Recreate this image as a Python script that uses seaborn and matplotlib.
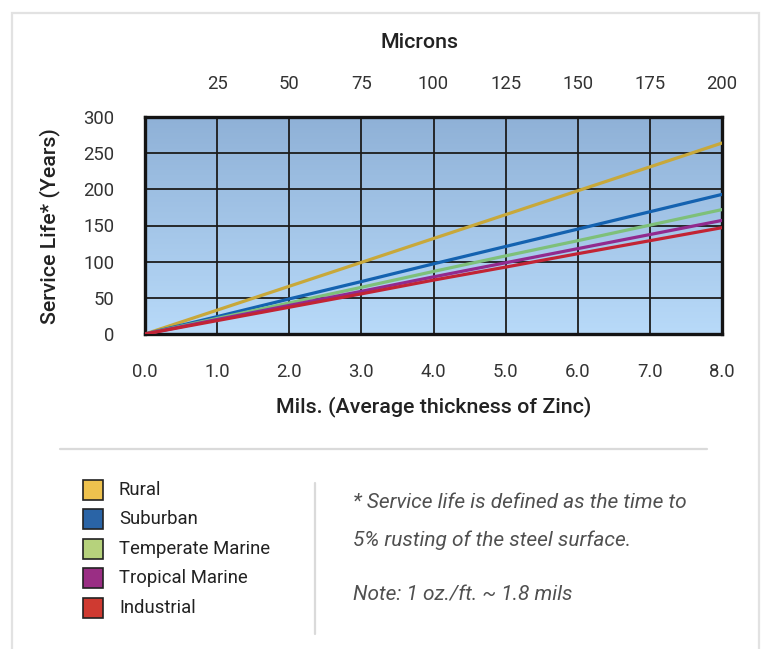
import numpy as np
import pandas as pd
import seaborn as sns
import matplotlib.pyplot as plt
from matplotlib.patches import Rectangle
from matplotlib.lines import Line2D
from matplotlib.colors import LinearSegmentedColormap

# ---------------- data ----------------
mils = [0, 1, 2, 3, 4, 5, 6, 7, 8]
rural = [0, 33, 66, 99, 132, 165, 198, 231, 264]
suburban = [0, 24, 48.5, 72.5, 97, 121, 145, 169, 193]
temperate_marine = [0, 21.5, 43, 64.5, 86.5, 108, 129, 150.5, 172]
tropical_marine = [0, 20, 39.5, 59, 79, 98.5, 118, 137.5, 157]
industrial = [0, 18.5, 37, 55.5, 74.5, 92.5, 111, 129, 147]

series_names = ["Rural", "Suburban", "Temperate Marine", "Tropical Marine", "Industrial"]
series_values = [rural, suburban, temperate_marine, tropical_marine, industrial]
line_colors = ["#c8a83a", "#1462b0", "#7ec07a", "#922a8e", "#c22434"]
legend_colors = ["#eec24e", "#2a64a6", "#b6d27c", "#9a2e84", "#cf3a31"]

x_ticks = [0, 1, 2, 3, 4, 5, 6, 7, 8]
x_tick_labels = ["0.0", "1.0", "2.0", "3.0", "4.0", "5.0", "6.0", "7.0", "8.0"]
micron_ticks = [1, 2, 3, 4, 5, 6, 7, 8]
micron_labels = ["25", "50", "75", "100", "125", "150", "175", "200"]
y_ticks = [0, 50, 100, 150, 200, 250, 300]

notes = ["* Service life is defined as the time to",
         "5% rusting of the steel surface.",
         "Note: 1 oz./ft. ~ 1.8 mils"]

df = pd.DataFrame({
    "Mils": np.tile(mils, len(series_names)),
    "Years": np.concatenate(series_values),
    "Environment": np.repeat(series_names, len(mils)),
})

# ---------------- figure ----------------
sns.set_theme(style="white")
plt.rcParams["font.family"] = ["Roboto", "DejaVu Sans"]

W, H = 762, 649
fig = plt.figure(figsize=(W / 100, H / 100), dpi=100)
fig.patch.set_facecolor("white")

def fx(px):
    return px / W

def fy(py):
    return 1 - py / H

# card border
fig.patches.append(Rectangle((fx(12), fy(660)), fx(759) - fx(12), fy(13) - fy(660),
                             transform=fig.transFigure, facecolor="none",
                             edgecolor="#e2e2e2", linewidth=1.6, zorder=0))

left, right, top, bottom = 145, 722, 117, 334
ax = fig.add_axes([fx(left), fy(bottom), fx(right) - fx(left), fy(top) - fy(bottom)])

# gradient background
cmap = LinearSegmentedColormap.from_list("bg", ["#b8daf9", "#8fb1d7"])
grad = np.linspace(0, 1, 256).reshape(-1, 1)
ax.imshow(grad, extent=[0, 8, 0, 300], origin="lower", aspect="auto",
          cmap=cmap, zorder=0, interpolation="bicubic")

sns.lineplot(data=df, x="Mils", y="Years", hue="Environment",
             hue_order=series_names, palette=line_colors,
             linewidth=2.3, legend=False, ax=ax, zorder=3)

ax.set_xlim(0, 8)
ax.set_ylim(0, 300)
ax.set_xticks(x_ticks)
ax.set_xticklabels(x_tick_labels)
ax.set_yticks(y_ticks)
ax.set_xlabel("")
ax.set_ylabel("")
ax.set_axisbelow(True)
ax.grid(True, color="#1c1c1c", linewidth=1.3, zorder=1)
for sp in ax.spines.values():
    sp.set_visible(True)
    sp.set_color("#141414")
    sp.set_linewidth(2.4)
ax.tick_params(axis="x", length=0, pad=21, labelsize=13.3, labelcolor="#333333")
ax.tick_params(axis="y", length=0, pad=22, labelsize=13.3, labelcolor="#333333")

# top axis (microns)
ax2 = ax.twiny()
ax2.set_xlim(0, 8)
ax2.set_xticks(micron_ticks)
ax2.set_xticklabels(micron_labels)
ax2.tick_params(axis="x", length=0, pad=17.5, labelsize=13.3, labelcolor="#333333")
for sp in ax2.spines.values():
    sp.set_visible(False)
ax2.grid(False)

# axis titles
fig.text(fx(420), fy(43), "Microns", ha="center", va="center",
         fontsize=15.4, fontweight="medium", color="#222222")
fig.text(fx(434), fy(407), "Mils. (Average thickness of Zinc)", ha="center", va="center",
         fontsize=15.4, fontweight="medium", color="#222222")
fig.text(fx(50), fy(226), "Service Life* (Years)", ha="center", va="center",
         rotation=90, fontsize=15.4, fontweight="medium", color="#222222")

# separators
fig.add_artist(Line2D([fx(60), fx(707)], [fy(449), fy(449)], transform=fig.transFigure,
                      color="#dadada", linewidth=1.6))
fig.add_artist(Line2D([fx(315), fx(315)], [fy(483), fy(634)], transform=fig.transFigure,
                      color="#dadada", linewidth=1.6))

# legend
row_y = [490, 519, 549, 578, 608]
for name, col, yy in zip(series_names, legend_colors, row_y):
    fig.patches.append(Rectangle((fx(83), fy(yy + 10)), fx(103) - fx(83), fy(yy - 10) - fy(yy + 10),
                                 transform=fig.transFigure, facecolor=col,
                                 edgecolor="#222222", linewidth=1.2))
    fig.text(fx(119), fy(yy), name, ha="left", va="center",
             fontsize=13.3, color="#222222")

# notes
for txt, yy in zip(notes, [502, 540, 595]):
    fig.text(fx(353), fy(yy), txt, ha="left", va="center", fontsize=15,
             fontstyle="italic", fontweight="normal", color="#505050")

fig.savefig("out.png", dpi=100, facecolor="white")
